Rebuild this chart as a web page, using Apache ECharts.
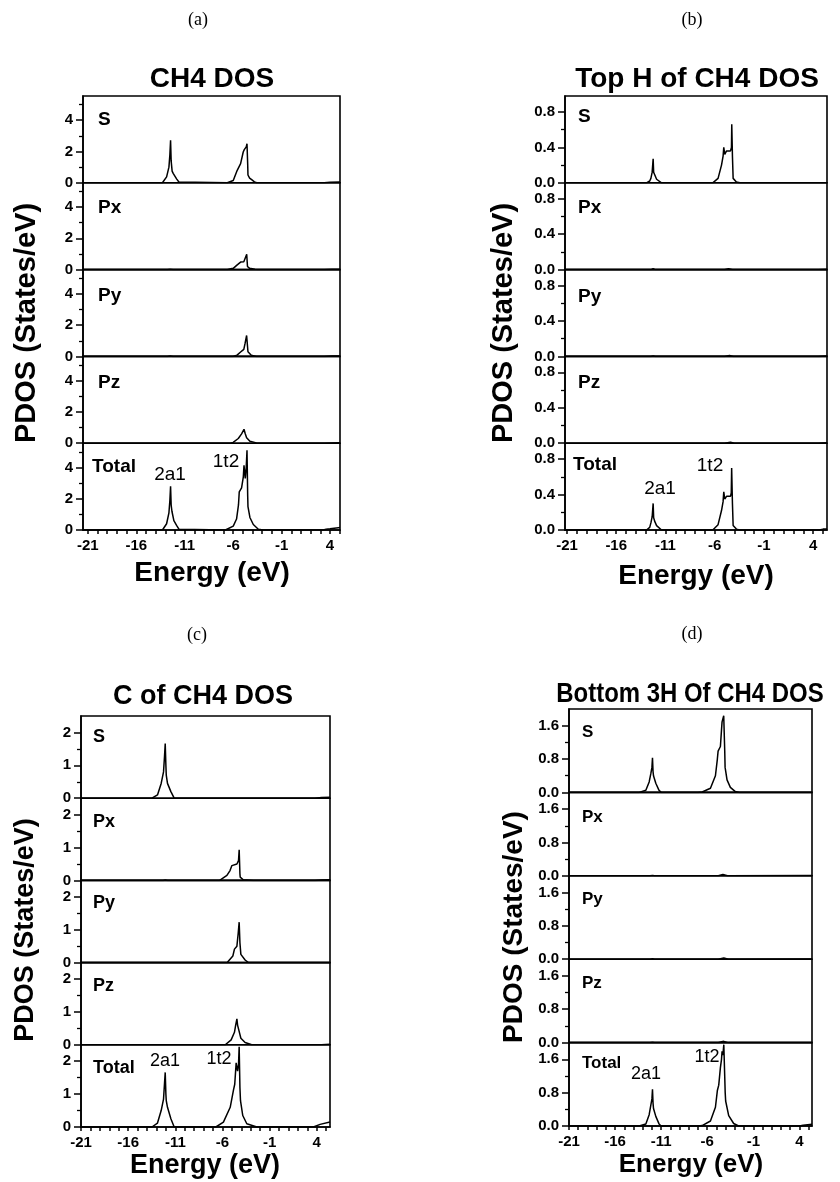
<!DOCTYPE html>
<html>
<head>
<meta charset="utf-8">
<title>CH4 PDOS</title>
<script src="https://cdn.jsdelivr.net/npm/echarts@6/dist/echarts.min.js"></script>
<style>
  html, body { margin: 0; padding: 0; background: #fff; }
  #main { width: 840px; height: 1182px; }
</style>
</head>
<body>
<div id="main"></div>
<script>
// subplot names, top to bottom
var orbitals = ['S', 'Px', 'Py', 'Pz', 'Total'];
var peakNames = ['2a1', '1t2'];

// energy axis ticks (eV)
var xLabelValues = [-21, -16, -11, -6, -1, 4];
var xTickValues = [-21, -20, -19, -18, -17, -16, -15, -14, -13, -12, -11, -10, -9, -8, -7,
  -6, -5, -4, -3, -2, -1, 0, 1, 2, 3, 4, 5];

// PDOS ticks per panel
var ch4YMajor = [0, 2, 4],       ch4YMinor = [1, 3, 5];
var topHYMajor = [0, 0.4, 0.8],  topHYMinor = [0.2, 0.6];
var cYMajor = [0, 1, 2],         cYMinor = [0.5, 1.5];
var botYMajor = [0, 0.8, 1.6],   botYMinor = [0.4, 1.2];

// (a) CH4 DOS  [energy, states/eV]
var ch4S = [[-21.5,0],[-13.3,0],[-13.2,0.02],[-12.87,0.38],[-12.63,1.0],[-12.53,1.8],[-12.46,2.72],[-12.4,1.4],
  [-12.3,0.75],[-12.19,0.6],[-11.84,0.25],[-11.6,0.05],[-11.5,0],
  [-6.6,0],[-6.5,0.02],[-5.99,0.15],[-5.58,0.8],[-5.23,1.23],[-4.96,1.97],[-4.85,2.12],[-4.78,2.08],[-4.65,2.3],
  [-4.57,2.5],[-4.5,1.2],[-4.47,0.5],[-4.3,0.3],[-4.09,0.2],[-3.8,0.06],[-3.57,0],
  [3.4,0],[4.0,0.03],[5.03,0.05]];
var ch4Px = [[-21.5,0],[-12.8,0],[-12.5,0.03],[-12.2,0],[-6.6,0],[-5.99,0.08],[-5.58,0.3],[-5.23,0.48],[-4.9,0.5],
  [-4.7,0.5],[-4.6,0.98],[-4.52,0.2],[-4.3,0.08],[-3.75,0.02],[-3.4,0],[3.4,0],[4.2,0.02],[5.03,0.03]];
var ch4Py = [[-21.5,0],[-12.8,0],[-12.5,0.02],[-12.2,0],[-6.0,0],[-5.6,0.08],[-5.23,0.28],[-4.9,0.45],[-4.78,0.8],
  [-4.61,1.34],[-4.47,0.3],[-4.13,0.08],[-3.6,0],[3.4,0],[4.2,0.02],[5.03,0.03]];
var ch4Pz = [[-21.5,0],[-6.3,0],[-6.0,0.05],[-5.47,0.3],[-5.13,0.6],[-4.88,0.89],[-4.75,0.6],[-4.61,0.35],
  [-4.27,0.12],[-3.6,0.02],[-2.9,0],[3.4,0],[4.2,0.02],[5.03,0.03]];
var ch4Total = [[-21.5,0],[-13.3,0],[-13.22,0.02],[-12.87,0.4],[-12.63,1.1],[-12.53,1.9],[-12.46,2.8],[-12.4,1.6],
  [-12.32,1.2],[-12.12,0.6],[-11.84,0.3],[-11.6,0.05],[-11.5,0],
  [-6.8,0],[-6.68,0.02],[-5.99,0.25],[-5.65,0.7],[-5.45,1.6],[-5.37,2.44],[-5.13,2.7],[-4.95,3.4],[-4.88,4.14],
  [-4.75,3.3],[-4.65,4.0],[-4.57,5.1],[-4.5,2.2],[-4.47,1.5],[-4.27,0.8],[-3.92,0.35],[-3.4,0.05],[-2.9,0],
  [3.3,0],[3.6,0.05],[4.0,0.08],[4.86,0.15],[5.03,0.16]];

// (b) Top H of CH4 DOS
var topHS = [[-21.2,0],[-12.92,0],[-12.6,0.02],[-12.48,0.05],[-12.35,0.12],[-12.25,0.27],[-12.2,0.12],[-12.15,0.1],
  [-11.9,0.04],[-11.4,0],
  [-6.2,0],[-5.66,0.05],[-5.31,0.2],[-5.15,0.3],[-5.08,0.4],[-4.98,0.32],[-4.91,0.3],[-4.8,0.36],[-4.64,0.36],
  [-4.4,0.36],[-4.3,0.4],[-4.27,0.66],[-4.2,0.3],[-4.13,0.05],[-3.8,0.01],[-3.45,0],[5.4,0]];
var topHPx = [[-21.2,0],[-12.5,0],[-12.25,0.01],[-12.0,0],[-5.0,0],[-4.6,0.01],[-4.2,0],[4.5,0],[5.4,0.005]];
var topHPy = [[-21.2,0],[-12.5,0],[-12.25,0.005],[-12.0,0],[-5.0,0],[-4.5,0.01],[-4.1,0],[4.5,0],[5.4,0.005]];
var topHPz = [[-21.2,0],[-5.0,0],[-4.4,0.01],[-4.0,0],[4.5,0],[5.4,0.005]];
var topHTotal = [[-21.2,0],[-12.92,0],[-12.6,0.03],[-12.48,0.08],[-12.35,0.15],[-12.25,0.3],[-12.2,0.14],[-12.1,0.1],
  [-11.9,0.05],[-11.4,0],
  [-6.2,0],[-5.66,0.06],[-5.31,0.22],[-5.15,0.32],[-5.08,0.43],[-4.98,0.35],[-4.91,0.33],[-4.8,0.38],[-4.64,0.38],
  [-4.4,0.38],[-4.32,0.42],[-4.28,0.7],[-4.2,0.3],[-4.13,0.05],[-3.8,0.01],[-3.45,0],[4.6,0],[5.0,0.01],[5.4,0.01]];

// (c) C of CH4 DOS
var cS = [[-21,0],[-13.48,0],[-12.89,0.1],[-12.5,0.45],[-12.25,0.8],[-12.14,1.3],[-12.07,1.66],[-12.0,1.0],
  [-11.96,0.7],[-11.83,0.45],[-11.47,0.2],[-11.12,0],[3.8,0],[4.5,0.02],[5.4,0.03]];
var cPx = [[-21,0],[-12.3,0],[-12.07,0.01],[-11.8,0],[-6.3,0],[-5.53,0.15],[-5.2,0.3],[-5.0,0.45],[-4.47,0.5],
  [-4.3,0.6],[-4.23,0.93],[-4.15,0.2],[-4.12,0.1],[-3.8,0.02],[-2.72,0],[3.8,0],[4.5,0.01],[5.4,0.02]];
var cPy = [[-21,0],[-5.5,0],[-5.36,0.02],[-4.9,0.2],[-4.73,0.41],[-4.6,0.45],[-4.47,0.5],[-4.33,0.9],[-4.23,1.23],
  [-4.15,0.6],[-4.05,0.25],[-3.6,0.08],[-3.24,0],[5.4,0]];
var cPz = [[-21,0],[-5.7,0],[-5.53,0.02],[-5.08,0.15],[-4.73,0.38],[-4.6,0.6],[-4.47,0.79],[-4.4,0.6],[-4.33,0.55],
  [-4.05,0.2],[-3.6,0.07],[-2.9,0],[4.5,0],[5.4,0.02]];
var cTotal = [[-21,0],[-13.48,0],[-12.89,0.12],[-12.5,0.5],[-12.25,0.85],[-12.14,1.35],[-12.07,1.66],[-12.0,1.0],
  [-11.96,0.8],[-11.83,0.6],[-11.47,0.25],[-11.12,0],
  [-6.7,0],[-6.6,0.01],[-5.9,0.15],[-5.18,0.6],[-4.83,1.13],[-4.7,1.3],[-4.55,1.95],[-4.4,1.7],[-4.3,1.9],
  [-4.23,2.44],[-4.15,1.2],[-4.09,0.8],[-3.85,0.35],[-3.42,0.1],[-2.36,0],
  [3.64,0],[4.35,0.08],[5.4,0.15]];

// (d) Bottom 3H Of CH4 DOS
var botS = [[-21,0],[-13.38,0],[-12.66,0.05],[-12.3,0.25],[-12.12,0.45],[-12.0,0.6],[-11.94,0.83],[-11.88,0.5],
  [-11.83,0.4],[-11.58,0.22],[-11.23,0.05],[-11.0,0],
  [-7.0,0],[-6.55,0.01],[-5.65,0.1],[-5.11,0.4],[-4.9,0.8],[-4.82,0.99],[-4.57,1.1],[-4.45,1.5],[-4.39,1.69],
  [-4.3,1.65],[-4.21,1.84],[-4.1,1.0],[-4.06,0.6],[-3.85,0.3],[-3.49,0.12],[-2.95,0.02],[-2.5,0],[5.37,0]];
var botPx = [[-21,0],[-12.2,0],[-11.94,0.01],[-11.7,0],[-4.8,0],[-4.3,0.03],[-3.8,0],[5.37,0.005]];
var botPy = [[-21,0],[-12.2,0],[-11.94,0.01],[-11.7,0],[-4.8,0],[-4.2,0.03],[-3.7,0],[5.37,0.005]];
var botPz = [[-21,0],[-12.2,0],[-11.94,0.01],[-11.7,0],[-4.8,0],[-4.2,0.03],[-3.7,0],[5.37,0.005]];
var botTotal = [[-21,0],[-13.38,0],[-12.66,0.05],[-12.3,0.27],[-12.12,0.5],[-12.0,0.65],[-11.94,0.88],[-11.88,0.55],
  [-11.83,0.42],[-11.58,0.23],[-11.23,0.05],[-11.0,0],
  [-7.0,0],[-6.55,0.01],[-5.65,0.12],[-5.11,0.45],[-4.9,0.85],[-4.75,0.98],[-4.57,1.4],[-4.45,1.6],[-4.39,1.79],
  [-4.3,1.7],[-4.2,1.95],[-4.14,1.99],[-4.05,0.8],[-4.0,0.6],[-3.67,0.25],[-3.13,0.06],[-2.6,0],[4.0,0],
  [4.41,0.02],[5.37,0.04]];

var SANS = '"Liberation Sans", Arial, Helvetica, sans-serif';
var SERIF = '"Liberation Serif", "Times New Roman", serif';

// layout of the four panels (pixels)
var panels = [
  { letter: '(a)', title: 'CH4 DOS', series: [ch4S, ch4Px, ch4Py, ch4Pz, ch4Total],
    yMajor: ch4YMajor, yMinor: ch4YMinor, digits: 0, yMax: 5.55, xMin: -21.5, xMax: 5.03,
    left: 83, top: 96, width: 257, height: 434,
    letterPos: [198, 20], titlePos: [212, 79], titleSize: 28, titleScale: 1,
    yNamePos: [27, 323], yNameSize: 29, xNamePos: [212, 573], xNameSize: 28,
    labelDx: [15, 15, 15, 15, 9], labelDy: [24, 25, 26, 26, 24], labelSize: 19,
    peakPos: [[170, 475], [226, 462]], peakSize: 19 },
  { letter: '(b)', title: 'Top H of CH4 DOS', series: [topHS, topHPx, topHPy, topHPz, topHTotal],
    yMajor: topHYMajor, yMinor: topHYMinor, digits: 1, yMax: 0.98, xMin: -21.2, xMax: 5.4,
    left: 565, top: 96, width: 262, height: 434,
    letterPos: [692, 20], titlePos: [697, 79], titleSize: 28, titleScale: 1,
    yNamePos: [504, 323], yNameSize: 29, xNamePos: [696, 576], xNameSize: 28,
    labelDx: [13, 13, 13, 13, 8], labelDy: [21, 25, 27, 26, 22], labelSize: 19,
    peakPos: [[660, 489], [710, 466]], peakSize: 19 },
  { letter: '(c)', title: 'C of CH4 DOS', series: [cS, cPx, cPy, cPz, cTotal],
    yMajor: cYMajor, yMinor: cYMinor, digits: 0, yMax: 2.5, xMin: -21, xMax: 5.4,
    left: 81, top: 716, width: 249, height: 411,
    letterPos: [197, 635], titlePos: [203, 697], titleSize: 27, titleScale: 1,
    yNamePos: [26, 930], yNameSize: 27, xNamePos: [205, 1166], xNameSize: 27,
    labelDx: [12, 12, 12, 12, 12], labelDy: [21, 24, 23, 23, 23], labelSize: 18,
    peakPos: [[165, 1061], [219, 1059]], peakSize: 18 },
  { letter: '(d)', title: 'Bottom 3H Of CH4 DOS', series: [botS, botPx, botPy, botPz, botTotal],
    yMajor: botYMajor, yMinor: botYMinor, digits: 1, yMax: 2.0, xMin: -21, xMax: 5.37,
    left: 569, top: 709, width: 243, height: 417,
    letterPos: [692, 634], titlePos: [690, 694], titleSize: 28, titleScale: 0.855,
    yNamePos: [514, 927], yNameSize: 28, xNamePos: [691, 1165], xNameSize: 26,
    labelDx: [13, 13, 13, 13, 13], labelDy: [23, 25, 24, 24, 21], labelSize: 17,
    peakPos: [[646, 1074], [707, 1057]], peakSize: 18 }
];

function txt(text, x, y, font, opts) {
  opts = opts || {};
  return {
    type: 'text', x: x, y: y, rotation: opts.rotation || 0,
    scaleX: opts.scaleX || 1, silent: true, z: 10,
    style: {
      text: text, font: font, fill: '#000',
      textAlign: opts.align || 'center', textVerticalAlign: 'middle',
      align: opts.align || 'center', verticalAlign: 'middle'
    }
  };
}

var grids = [], xAxes = [], yAxes = [], seriesList = [], graphics = [];

panels.forEach(function (p, pi) {
  var cellH = p.height / 5;
  orbitals.forEach(function (name, i) {
    var gi = pi * 5 + i;
    var top = p.top + i * cellH;
    var isBottom = i === 4;
    grids.push({
      left: p.left, top: top, width: p.width, height: cellH,
      show: true, borderColor: '#000', borderWidth: 1.6, backgroundColor: 'transparent',
      containLabel: false, outerBoundsMode: 'none'
    });
    xAxes.push({
      type: 'value', gridIndex: gi, min: p.xMin, max: p.xMax, show: isBottom, position: 'bottom',
      axisLine: { show: true, onZero: false, lineStyle: { color: '#000', width: 1.6 } },
      axisTick: { show: true, inside: false, length: 4, customValues: xTickValues,
        lineStyle: { color: '#000', width: 1.5 } },
      axisLabel: { show: true, customValues: xLabelValues, color: '#000', fontWeight: 'bold',
        fontSize: 15, fontFamily: SANS, margin: 8 },
      splitLine: { show: false }
    });
    // major ticks + labels
    yAxes.push({
      type: 'value', gridIndex: gi, min: 0, max: p.yMax, position: 'left',
      axisLine: { show: true, onZero: false, lineStyle: { color: '#000', width: 1.6 } },
      axisTick: { show: true, inside: false, length: 7, customValues: p.yMajor,
        lineStyle: { color: '#000', width: 1.5 } },
      axisLabel: { show: true, customValues: p.yMajor, color: '#000', fontWeight: 'bold',
        fontSize: 15, fontFamily: SANS, margin: 10,
        formatter: function (v) { return Number(v).toFixed(p.digits); } },
      splitLine: { show: false }
    });
    // minor ticks only
    yAxes.push({
      type: 'value', gridIndex: gi, min: 0, max: p.yMax, position: 'left', offset: 0,
      axisLine: { show: false, onZero: false },
      axisTick: { show: true, inside: false, length: 4, customValues: p.yMinor,
        lineStyle: { color: '#000', width: 1.3 } },
      axisLabel: { show: false },
      splitLine: { show: false }
    });
    seriesList.push({
      type: 'line', name: p.title + ' ' + name, xAxisIndex: gi, yAxisIndex: gi * 2,
      data: p.series[i], showSymbol: false, symbol: 'none', silent: true, clip: true,
      lineStyle: { color: '#000', width: 1.5 }
    });
    graphics.push(txt(name, p.left + p.labelDx[i], top + p.labelDy[i],
      'bold ' + p.labelSize + 'px ' + SANS, { align: 'left' }));
  });

  graphics.push(txt(p.letter, p.letterPos[0], p.letterPos[1], '18px ' + SERIF));
  graphics.push(txt(p.title, p.titlePos[0], p.titlePos[1], 'bold ' + p.titleSize + 'px ' + SANS,
    { scaleX: p.titleScale }));
  graphics.push(txt('PDOS (States/eV)', p.yNamePos[0], p.yNamePos[1], 'bold ' + p.yNameSize + 'px ' + SANS,
    { rotation: Math.PI / 2 }));
  graphics.push(txt('Energy (eV)', p.xNamePos[0], p.xNamePos[1], 'bold ' + p.xNameSize + 'px ' + SANS));
  peakNames.forEach(function (t, k) {
    graphics.push(txt(t, p.peakPos[k][0], p.peakPos[k][1], p.peakSize + 'px ' + SANS));
  });
});

var chart = echarts.init(document.getElementById('main'), null, { renderer: 'canvas' });
chart.setOption({
  animation: false,
  backgroundColor: '#fff',
  grid: grids,
  xAxis: xAxes,
  yAxis: yAxes,
  series: seriesList,
  graphic: { elements: graphics }
});
</script>
</body>
</html>
